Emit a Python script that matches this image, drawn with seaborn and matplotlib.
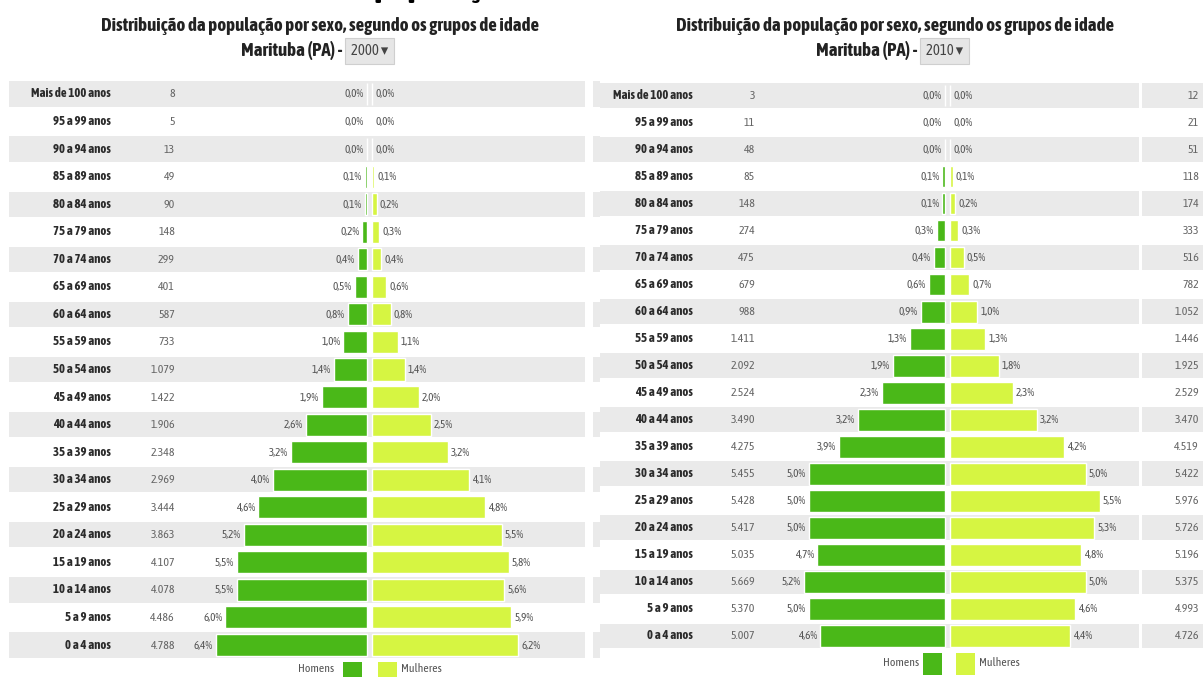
import numpy as np
import pandas as pd
import seaborn as sns
import matplotlib.pyplot as plt
from matplotlib import font_manager
from matplotlib.patches import Rectangle
from matplotlib.transforms import ScaledTranslation

sns.set_theme(style='white')


def peso(w):
    return font_manager.weight_dict.get(w, w) if isinstance(w, str) else w


# procura uma fonte estreita (Narrow / Condensed) que tenha negrito
fontes = font_manager.fontManager.ttflist
estreitas = sorted({f.name for f in fontes if 'Narrow' in f.name or 'Condensed' in f.name})
com_negrito = [n for n in estreitas
               if any(f.name == n and peso(f.weight) >= 600 for f in fontes)]
candidatas = com_negrito or estreitas
estreita = candidatas[0] if candidatas else 'Liberation Sans'
plt.rcParams['font.family'] = [estreita, 'DejaVu Sans']
fator = 1.0 if candidatas else 0.86

idades = ['Mais de 100 anos', '95 a 99 anos', '90 a 94 anos', '85 a 89 anos',
          '80 a 84 anos', '75 a 79 anos', '70 a 74 anos', '65 a 69 anos',
          '60 a 64 anos', '55 a 59 anos', '50 a 54 anos', '45 a 49 anos',
          '40 a 44 anos', '35 a 39 anos', '30 a 34 anos', '25 a 29 anos',
          '20 a 24 anos', '15 a 19 anos', '10 a 14 anos', '5 a 9 anos',
          '0 a 4 anos']

# 2000
homens_2000 = [8, 5, 13, 49, 90, 148, 299, 401, 587, 733, 1079, 1422, 1906,
               2348, 2969, 3444, 3863, 4107, 4078, 4486, 4788]
pct_h_2000 = [0.0, 0.0, 0.0, 0.1, 0.1, 0.2, 0.4, 0.5, 0.8, 1.0, 1.4, 1.9, 2.6,
              3.2, 4.0, 4.6, 5.2, 5.5, 5.5, 6.0, 6.4]
pct_m_2000 = [0.0, 0.0, 0.0, 0.1, 0.2, 0.3, 0.4, 0.6, 0.8, 1.1, 1.4, 2.0, 2.5,
              3.2, 4.1, 4.8, 5.5, 5.8, 5.6, 5.9, 6.2]

# 2010
homens_2010 = [3, 11, 48, 85, 148, 274, 475, 679, 988, 1411, 2092, 2524, 3490,
               4275, 5455, 5428, 5417, 5035, 5669, 5370, 5007]
mulheres_2010 = [12, 21, 51, 118, 174, 333, 516, 782, 1052, 1446, 1925, 2529,
                 3470, 4519, 5422, 5976, 5726, 5196, 5375, 4993, 4726]
pct_h_2010 = [0.0, 0.0, 0.0, 0.1, 0.1, 0.3, 0.4, 0.6, 0.9, 1.3, 1.9, 2.3, 3.2,
              3.9, 5.0, 5.0, 5.0, 4.7, 5.2, 5.0, 4.6]
pct_m_2010 = [0.0, 0.0, 0.0, 0.1, 0.2, 0.3, 0.5, 0.7, 1.0, 1.3, 1.8, 2.3, 3.2,
              4.2, 5.0, 5.5, 5.3, 4.8, 5.0, 4.6, 4.4]

titulo = 'Distribuição da população por sexo, segundo os grupos de idade'

VERDE = '#4ab818'
AMARELO = '#d6f542'
FAIXA = '#eaeaea'

W, H = 1203, 677
fig = plt.figure(figsize=(W / 100, H / 100), dpi=100)


def milhar(n):
    return f'{n:,}'.replace(',', '.')


def pct(v):
    return f'{v:.1f}%'.replace('.', ',')


def fs(v):
    return v * fator


def painel(x0, x1, y_top, y_bot, centro, escala, faixas, pct_h, pct_m,
           cont_h, cont_m, col_rot, col_h, col_m):
    ax = fig.add_axes([x0 / W, 1 - y_bot / H, (x1 - x0) / W, (y_bot - y_top) / H])
    d = lambda p: (p - centro) / escala

    df = pd.DataFrame({'idade': idades, 'h': -np.array(pct_h), 'm': pct_m})

    antes = len(ax.patches)
    sns.barplot(data=df, x='h', y='idade', color=VERDE, saturation=1,
                width=0.8, orient='h', ax=ax)
    barras_h = ax.patches[antes:]
    antes = len(ax.patches)
    sns.barplot(data=df, x='m', y='idade', color=AMARELO, saturation=1,
                width=0.8, orient='h', ax=ax)
    barras_m = ax.patches[antes:]
    # pequeno vão branco no eixo central
    for p in barras_h:
        p.set_transform(ax.transData + ScaledTranslation(-2.5 / 100, 0, fig.dpi_scale_trans))
    for p in barras_m:
        p.set_transform(ax.transData + ScaledTranslation(2.5 / 100, 0, fig.dpi_scale_trans))

    for i in range(0, len(idades), 2):
        for a, b in faixas:
            ax.axhspan(i - 0.46, i + 0.46, xmin=(a - x0) / (x1 - x0),
                       xmax=(b - x0) / (x1 - x0), color=FAIXA, lw=0, zorder=0)

    for i, idade in enumerate(idades):
        ax.text(d(col_rot), i, idade, ha='right', va='center', fontsize=fs(9.2),
                fontweight='bold', color='#2b2b2b')
        ax.text(d(col_h), i, milhar(cont_h[i]), ha='right', va='center',
                fontsize=fs(8.5), color='#666666')
        if cont_m is not None:
            ax.text(d(col_m), i, milhar(cont_m[i]), ha='right', va='center',
                    fontsize=fs(8.5), color='#666666')
        ax.annotate(pct(pct_h[i]), xy=(-pct_h[i], i), xytext=(-5.5, 0),
                    textcoords='offset pixels', ha='right', va='center',
                    fontsize=fs(8), color='#555555')
        ax.annotate(pct(pct_m[i]), xy=(pct_m[i], i), xytext=(5.5, 0),
                    textcoords='offset pixels', ha='left', va='center',
                    fontsize=fs(8), color='#555555')

    ax.set_xlim(d(x0), d(x1))
    ax.set_ylim(len(idades) - 0.5, -0.5)
    ax.axis('off')
    return ax


# painel 2000
painel(9, 600, 80.2, 658.8, 369.5, 23.6, [(9, 585), (593, 600)],
       pct_h_2000, pct_m_2000, homens_2000, None, 111, 175, None)
# painel 2010
painel(600, 1203, 82.0, 649.5, 947.5, 27.2, [(600, 1139), (1142, 1203)],
       pct_h_2010, pct_m_2010, homens_2010, mulheres_2010, 693, 755, 1199)


def cabecalho(cx, x_hifen, y1, y2, ano):
    fig.text(cx / W, 1 - y1 / H, titulo, ha='center', va='center',
             fontsize=fs(13.6), fontweight='bold', color='#222222')
    fig.text(x_hifen / W, 1 - y2 / H, 'Marituba (PA) - ', ha='right',
             va='center', fontsize=fs(13.6), fontweight='bold', color='#222222')
    fig.text((x_hifen + 6) / W, 1 - y2 / H, f'{ano} ▾', ha='left', va='center',
             fontsize=fs(10.5), color='#444444',
             bbox=dict(boxstyle='square,pad=0.4', facecolor='#e6e6e6',
                       edgecolor='#cfcfcf', lw=0.8))


cabecalho(320, 345, 26, 51, 2000)
cabecalho(895, 920, 26, 51, 2010)


def legenda(x_txt_h, xv, xa, larg, y0, y1, x_txt_m, yt):
    fig.text(x_txt_h / W, 1 - yt / H, 'Homens', ha='right', va='center',
             fontsize=fs(8.5), color='#555555')
    fig.add_artist(Rectangle((xv / W, 1 - y1 / H), larg / W, (y1 - y0) / H,
                             transform=fig.transFigure, color=VERDE, lw=0))
    fig.add_artist(Rectangle((xa / W, 1 - y1 / H), larg / W, (y1 - y0) / H,
                             transform=fig.transFigure, color=AMARELO, lw=0))
    fig.text(x_txt_m / W, 1 - yt / H, 'Mulheres', ha='left', va='center',
             fontsize=fs(8.5), color='#555555')


legenda(334, 343, 378, 19, 662, 680, 401, 668)
legenda(919, 923, 956, 19, 653, 675, 979, 663)

# cabeçalho da página cortado no topo
fig.text(445 / W, 1 + 4 / H, 'população', ha='center', va='baseline',
         fontsize=26, fontweight='bold', color='black')

fig.savefig('out.png', dpi=100, facecolor='white')
